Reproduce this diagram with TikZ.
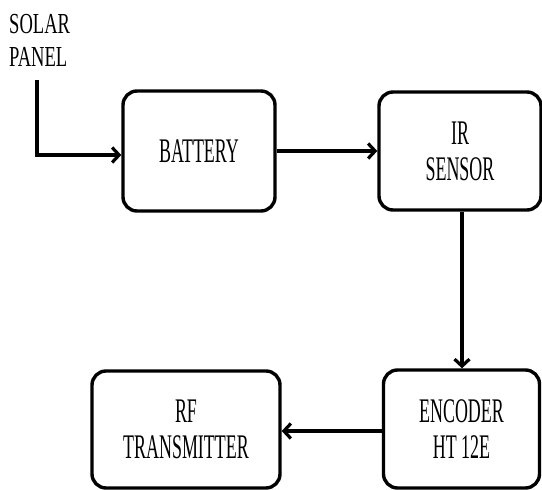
\documentclass[tikz,border=0pt]{standalone}
\usepackage{fontspec}
\setmainfont{Liberation Serif}
\newfontfamily\condfont[FakeStretch=0.52]{Liberation Serif}
\newfontfamily\lblfont[FakeStretch=0.64]{Liberation Serif}
\usetikzlibrary{arrows.meta}
\begin{document}
\begin{tikzpicture}[x=1pt,y=1pt,
  blk/.style={draw, line width=3.4pt, rounded corners=14pt, align=center,
    font=\condfont\fontsize{34.5}{36}\selectfont, inner sep=0pt},
  arr/.style={line width=3.2pt, -{Straight Barb[length=7pt,width=15pt]}},
  lbl/.style={align=left, font=\lblfont\fontsize{29}{33}\selectfont, inner sep=0pt}]
\useasboundingbox (0,0) rectangle (542,-490);
\node[lbl, anchor=west] (solar) at (9,-40) {SOLAR\\PANEL};
\coordinate (sp) at (37,-80);
\node[blk, minimum width=152pt, minimum height=120pt] (bat) at (199,-151) {BATTERY};
\node[blk, minimum width=162pt, minimum height=118pt] (ir) at (460,-151) {IR\\SENSOR};
\node[blk, minimum width=156pt, minimum height=118pt] (enc) at (461.5,-429) {ENCODER\\HT 12E};
\node[blk, minimum width=188pt, minimum height=117pt] (rf) at (186,-429.5) {RF\\TRANSMITTER};
\draw[arr] (sp) |- ([yshift=-4pt]bat.west);
\draw[arr] (bat.east) -- (ir.west);
\draw[arr] ([xshift=2pt]ir.south) -- ([xshift=2pt]ir.south |- enc.north);
\draw[arr] ([yshift=-2pt]enc.west) -- ([yshift=-2pt]enc.west -| rf.east);
\end{tikzpicture}
\end{document}
